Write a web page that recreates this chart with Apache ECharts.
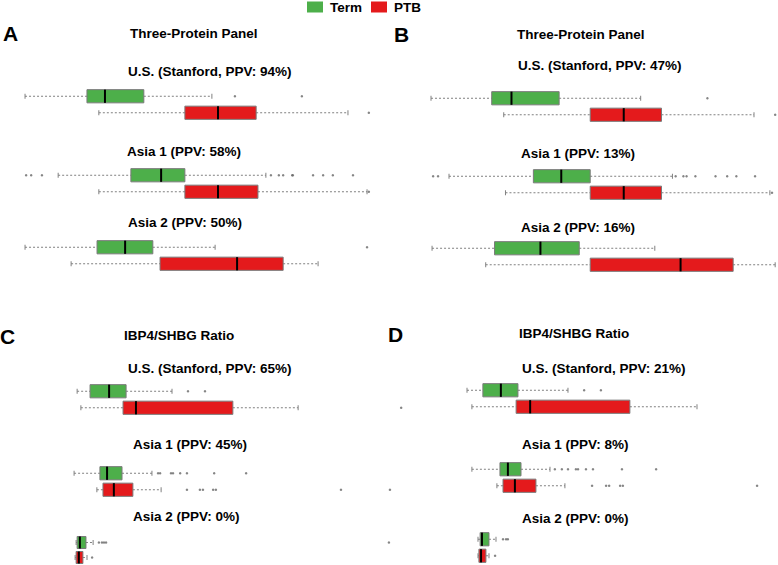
<!DOCTYPE html>
<html>
<head>
<meta charset="utf-8">
<script src="https://cdn.jsdelivr.net/npm/echarts@6/dist/echarts.min.js"></script>
<style>
  html, body { margin: 0; padding: 0; background: #fff; }
  #main { width: 778px; height: 565px; }
</style>
</head>
<body>
<div id="main"></div>
<script>
// panel labels and titles
const panelLetters = ['A', 'B', 'C', 'D'];
const panelTitles = ['Three-Protein Panel', 'Three-Protein Panel', 'IBP4/SHBG Ratio', 'IBP4/SHBG Ratio'];
const groupTitles = [
  ['U.S. (Stanford, PPV: 94%)', 'Asia 1 (PPV: 58%)', 'Asia 2 (PPV: 50%)'],
  ['U.S. (Stanford, PPV: 47%)', 'Asia 1 (PPV: 13%)', 'Asia 2 (PPV: 16%)'],
  ['U.S. (Stanford, PPV: 65%)', 'Asia 1 (PPV: 45%)', 'Asia 2 (PPV: 0%)'],
  ['U.S. (Stanford, PPV: 21%)', 'Asia 1 (PPV: 8%)', 'Asia 2 (PPV: 0%)']
];
const rowNames = ['Term', 'PTB'];

// box stats per group: [min, q1, median, q3, max]  (scale 0-100 per panel)
const termBoxA = [[1.4, 18.6, 23.6, 34.4, 53.3], [10.6, 30.8, 39.2, 45.8, 68.3], [1.4, 21.4, 29.2, 36.9, 54.2]];
const ptbBoxA  = [[21.9, 45.8, 55.0, 65.6, 91.1], [21.9, 45.8, 55.0, 66.1, 96.4], [14.2, 38.9, 60.3, 73.1, 82.8]];
const termOutA = [[59.7, 78.3], [1.7, 3.1, 6.1, 69.7, 71.9, 73.1, 75.6, 75.8, 81.4, 84.2, 86.9, 92.5], [96.4]];
const ptbOutA  = [[96.9], [96.9], []];

const termBoxB = [[1.7, 18.9, 24.5, 38.0, 61.1], [6.8, 30.7, 38.6, 46.8, 70.1], [2.0, 19.7, 32.7, 43.7, 65.1]];
const ptbBoxB  = [[22.3, 46.8, 56.3, 67.0, 93.2], [22.8, 46.8, 56.3, 67.0, 97.7], [17.2, 46.8, 72.4, 87.3, 99.2]];
const termOutB = [[80.0], [2.3, 3.7, 71.0, 73.2, 74.1, 76.6, 82.3, 85.6, 88.2, 93.5], []];
const ptbOutB  = [[99.2], [98.3], []];

const termBoxC = [[2.1, 5.9, 11.5, 16.5, 30.0], [1.2, 8.8, 10.9, 15.3, 24.1], [1.8, 2.1, 2.9, 4.7, 6.8]];
const ptbBoxC  = [[3.2, 15.6, 19.4, 47.9, 67.1], [7.9, 9.7, 12.9, 18.5, 26.8], [1.5, 1.8, 2.6, 3.8, 5.0]];
const termOutC = [[34.7, 39.7], [25.9, 26.5, 29.7, 30.3, 32.4, 34.4, 42.4, 51.8], [8.5, 9.4, 10.0, 10.6, 93.8]];
const ptbOutC  = [[97.4], [34.4, 38.2, 39.1, 42.1, 42.9, 79.7, 94.1], [6.5]];

const termBoxD = [[2.3, 7.5, 13.4, 19.0, 35.4], [3.9, 13.1, 15.7, 20.0, 29.5], [5.9, 6.6, 7.2, 9.5, 11.8]];
const ptbBoxD  = [[3.9, 18.4, 23.0, 55.7, 77.7], [12.1, 14.1, 18.0, 24.9, 34.4], [5.9, 6.2, 6.9, 8.5, 9.5]];
const termOutD = [[40.7, 46.2], [31.1, 33.4, 35.4, 38.0, 38.7, 41.3, 43.6, 53.1, 64.3], [14.1, 15.1, 15.7]];
const ptbOutD  = [[], [43.3, 47.9, 48.9, 52.5, 53.4, 97.4], [11.5]];

const termBoxes = [termBoxA, termBoxB, termBoxC, termBoxD];
const ptbBoxes = [ptbBoxA, ptbBoxB, ptbBoxC, ptbBoxD];
const termOuts = [termOutA, termOutB, termOutC, termOutD];
const ptbOuts = [ptbOutA, ptbOutB, ptbOutC, ptbOutD];

// layout
const panelLeft = [20, 425, 70, 460];
const panelWidth = [360, 355, 340, 305];
const groupTop = [[88, 167, 239], [90, 168, 240], [383, 465, 535], [382, 461, 531]];
const letterPos = [[3, 34], [394, 35], [0, 337], [388, 335]];
const panelTitlePos = [[130, 33], [517, 34], [124, 335], [519, 333]];
const groupTitlePos = [
  [[128, 71], [127, 151], [128, 222]],
  [[518, 65], [521, 153], [521, 227]],
  [[128, 368], [133, 444], [133, 516]],
  [[522, 368], [522, 444], [522, 518]]
];

const GREEN = '#4DAF4A';
const RED = '#E41A1C';
const FONT = "'Liberation Sans', Arial, sans-serif";

function renderBox(params, api) {
  const cat = api.value(0);
  const pMin = api.coord([api.value(1), cat]);
  const pQ1 = api.coord([api.value(2), cat]);
  const pMed = api.coord([api.value(3), cat]);
  const pQ3 = api.coord([api.value(4), cat]);
  const pMax = api.coord([api.value(5), cat]);
  const band = api.size([0, 1])[1];
  const h = band * 0.8;
  const y = pMed[1];
  const cap = 5;
  const whisker = { stroke: '#808080', lineWidth: 1, lineDash: [2, 2] };
  const capStyle = { stroke: '#808080', lineWidth: 1 };
  return {
    type: 'group',
    children: [
      { type: 'line', shape: { x1: pMin[0], y1: y, x2: pQ1[0], y2: y }, style: whisker },
      { type: 'line', shape: { x1: pQ3[0], y1: y, x2: pMax[0], y2: y }, style: whisker },
      { type: 'line', shape: { x1: pMin[0], y1: y - cap / 2, x2: pMin[0], y2: y + cap / 2 }, style: capStyle },
      { type: 'line', shape: { x1: pMax[0], y1: y - cap / 2, x2: pMax[0], y2: y + cap / 2 }, style: capStyle },
      { type: 'rect', shape: { x: pQ1[0], y: y - h / 2, width: pQ3[0] - pQ1[0], height: h },
        style: { fill: api.visual('color'), stroke: '#7a7a7a', lineWidth: 1 } },
      { type: 'line', shape: { x1: pMed[0], y1: y - h / 2, x2: pMed[0], y2: y + h / 2 },
        style: { stroke: '#000', lineWidth: 2 } }
    ]
  };
}

const grids = [], xAxes = [], yAxes = [], series = [], titles = [];
for (let p = 0; p < 4; p++) {
  titles.push({
    text: panelLetters[p], left: letterPos[p][0], top: letterPos[p][1] - 11, padding: 0,
    textStyle: { fontFamily: FONT, fontSize: 21, fontWeight: 'bold', color: '#000' }
  });
  titles.push({
    text: panelTitles[p], left: panelTitlePos[p][0], top: panelTitlePos[p][1] - 7, padding: 0,
    textStyle: { fontFamily: FONT, fontSize: 13.5, fontWeight: 'bold', color: '#000' }
  });
  for (let g = 0; g < 3; g++) {
    const gi = grids.length;
    titles.push({
      text: groupTitles[p][g], left: groupTitlePos[p][g][0], top: groupTitlePos[p][g][1] - 7, padding: 0,
      textStyle: { fontFamily: FONT, fontSize: 13.5, fontWeight: 'bold', color: '#000' }
    });
    grids.push({ left: panelLeft[p], width: panelWidth[p], top: groupTop[p][g], height: 33 });
    xAxes.push({ type: 'value', gridIndex: gi, min: 0, max: 100, show: false });
    yAxes.push({ type: 'category', gridIndex: gi, data: rowNames, inverse: true, show: false });
    series.push({
      name: 'Term', type: 'custom', xAxisIndex: gi, yAxisIndex: gi,
      itemStyle: { color: GREEN }, renderItem: renderBox,
      encode: { x: [1, 2, 3, 4, 5], y: 0 },
      data: [[0].concat(termBoxes[p][g])], silent: true
    });
    series.push({
      name: 'PTB', type: 'custom', xAxisIndex: gi, yAxisIndex: gi,
      itemStyle: { color: RED }, renderItem: renderBox,
      encode: { x: [1, 2, 3, 4, 5], y: 0 },
      data: [[1].concat(ptbBoxes[p][g])], silent: true
    });
    series.push({
      name: 'outliers', type: 'scatter', xAxisIndex: gi, yAxisIndex: gi,
      symbolSize: 2.5, itemStyle: { color: '#666' }, silent: true,
      data: termOuts[p][g].map(v => [v, 0]).concat(ptbOuts[p][g].map(v => [v, 1]))
    });
  }
}

const chart = echarts.init(document.getElementById('main'), null, { renderer: 'svg' });
chart.setOption({
  animation: false,
  backgroundColor: '#fff',
  title: titles,
  legend: {
    data: ['Term', 'PTB'], left: 307, top: 0, padding: 0,
    icon: 'rect', itemWidth: 16, itemHeight: 11, itemGap: 9,
    textStyle: { fontFamily: FONT, fontSize: 13.5, fontWeight: 'bold', color: '#000', padding: [0, 0, 0, 2] }
  },
  grid: grids,
  xAxis: xAxes,
  yAxis: yAxes,
  series: series
});
window.addEventListener('resize', () => chart.resize());
</script>
</body>
</html>
